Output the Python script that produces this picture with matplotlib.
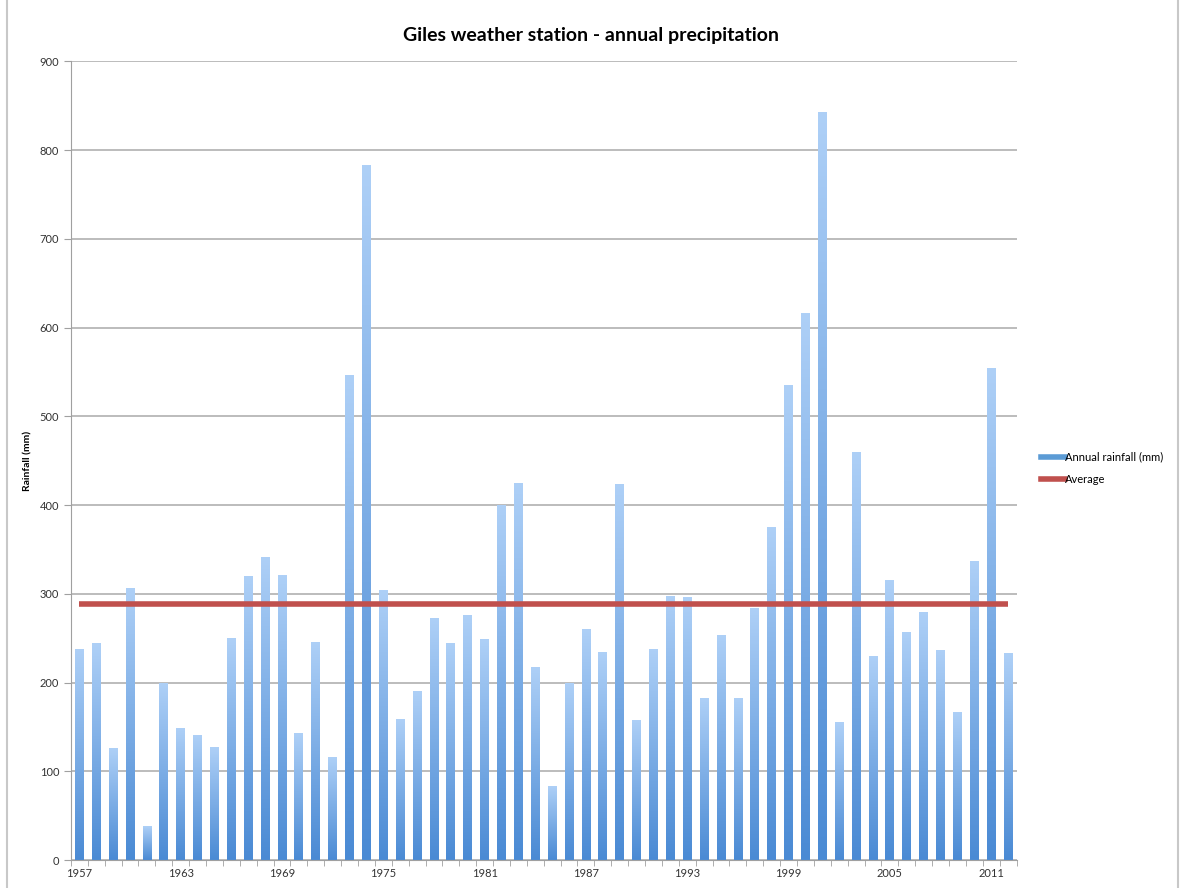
import numpy as np
import matplotlib.pyplot as plt
from matplotlib.lines import Line2D
from matplotlib.patches import Rectangle
from matplotlib.colors import LinearSegmentedColormap

plt.rcParams['font.family'] = ['Lato', 'DejaVu Sans']

# ─── Data ────────────────────────────────────────────────────────────────────

years = list(range(1957, 2013))
rainfall = [238, 244, 126, 307, 38, 199, 149, 141, 127, 250,
            320, 342, 321, 143, 246, 116, 547, 783, 304, 159,
            190, 273, 245, 276, 249, 400, 425, 217, 83, 200,
            260, 234, 424, 158, 238, 298, 296, 183, 254, 183,
            284, 375, 535, 616, 843, 155, 460, 230, 315, 257,
            279, 237, 167, 337, 554, 233]
average = [288] * len(years)
tick_years = list(range(1957, 2013, 6))

# ─── Figure ──────────────────────────────────────────────────────────────────

fig = plt.figure(figsize=(11.82, 8.88), dpi=100)
fig.patches.append(Rectangle((0.006, -0.01), 0.991, 1.02, transform=fig.transFigure,
                             fill=False, edgecolor='#c8c8c8', linewidth=1.5))
ax = fig.add_axes([0.060, 0.0315, 0.800, 0.8995])

x = np.arange(len(years))
bars = ax.bar(x, rainfall, width=0.52, color='none', edgecolor='none', zorder=2)

# vertical gradient in each bar: light on top, darker at bottom
grad = np.linspace(0, 1, 256).reshape(-1, 1)
cmap = LinearSegmentedColormap.from_list('bar', ['#4a8ad4', '#aed0f7'])
for b in bars:
    bx, bw, bh = b.get_x(), b.get_width(), b.get_height()
    im = ax.imshow(grad, cmap=cmap, origin='lower', aspect='auto',
                   extent=(bx, bx + bw, 0, bh), zorder=2)
    im.set_clip_path(b)

ax.plot(x, average, color='#c0504d', linewidth=4, zorder=3, solid_capstyle='butt')

ax.set_xlim(-0.5, len(years) - 0.5)
ax.set_ylim(0, 900)
ax.set_yticks(range(0, 901, 100))
ax.yaxis.grid(True, color='#b0b0b0', linewidth=1.2, zorder=0)
ax.set_axisbelow(True)

ax.set_xticks([years.index(y) for y in tick_years])
ax.set_xticklabels([str(y) for y in tick_years])
ax.set_xticks(np.arange(-0.5, len(years), 1), minor=True)
ax.tick_params(axis='x', which='major', length=0, labelsize=8, pad=6, colors='#333333')
ax.tick_params(axis='x', which='minor', length=4, color='#a0a0a0')
ax.tick_params(axis='y', length=5, color='#a0a0a0', labelsize=8, colors='#333333')

for s in ['top', 'right']:
    ax.spines[s].set_visible(False)
ax.spines['left'].set_color('#a0a0a0')
ax.spines['bottom'].set_color('#a0a0a0')

ax.set_ylabel('Rainfall (mm)', fontsize=7.5, fontweight='bold', labelpad=5)
fig.suptitle('Giles weather station - annual precipitation', fontsize=14,
             fontweight='bold', y=0.97)

handles = [Line2D([], [], color='#5b9bd5', linewidth=4),
           Line2D([], [], color='#c0504d', linewidth=4)]
fig.legend(handles, ['Annual rainfall (mm)', 'Average'], loc='center left',
           bbox_to_anchor=(0.872, 0.473), frameon=False, fontsize=8,
           handlelength=2.2, handletextpad=0.0, labelspacing=1.0)

fig.savefig('out.png', dpi=100)
